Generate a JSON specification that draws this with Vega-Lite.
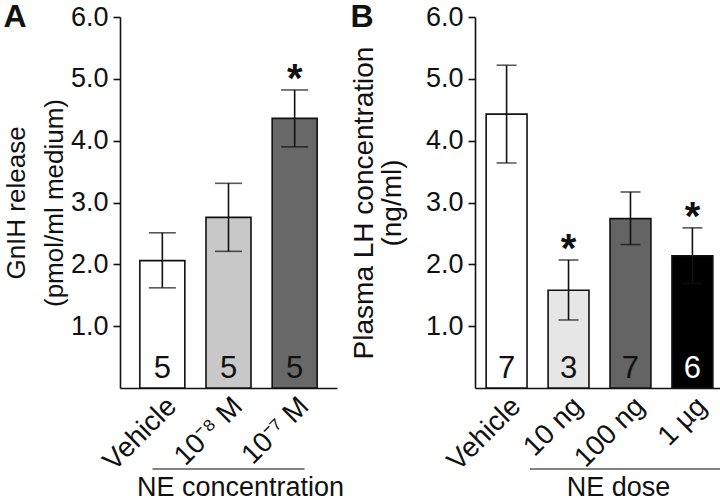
{
  "$schema": "https://vega.github.io/schema/vega-lite/v6.json",
  "padding": {"left": 3, "top": 1, "right": 0, "bottom": 0},
  "spacing": 6,
  "resolve": {"scale": {"fill": "independent", "color": "independent"}},
  "config": {
    "font": "Liberation Sans",
    "view": {"stroke": null},
    "axis": {"domainColor": "#111111", "domainWidth": 1.6, "tickColor": "#111111", "tickWidth": 1.6, "labelColor": "#111111", "titleColor": "#111111", "titleFontWeight": "normal", "grid": false},
    "title": {"fontSize": 32, "fontWeight": "bold", "color": "#111111"}
  },
  "datasets": {
    "a": [
      {"group": "Vehicle", "mean": 2.06, "lo": 1.62, "hi": 2.51, "n": "5", "sig": ""},
      {"group": "10⁻⁸ M", "mean": 2.76, "lo": 2.21, "hi": 3.31, "n": "5", "sig": ""},
      {"group": "10⁻⁷ M", "mean": 4.36, "lo": 3.90, "hi": 4.82, "n": "5", "sig": "*"}
    ],
    "b": [
      {"group": "Vehicle", "mean": 4.43, "lo": 3.64, "hi": 5.22, "n": "7", "sig": ""},
      {"group": "10 ng", "mean": 1.58, "lo": 1.10, "hi": 2.07, "n": "3", "sig": "*"},
      {"group": "100 ng", "mean": 2.74, "lo": 2.32, "hi": 3.17, "n": "7", "sig": ""},
      {"group": "1 µg", "mean": 2.14, "lo": 1.69, "hi": 2.59, "n": "6", "sig": "*"}
    ]
  },
  "hconcat": [
    {
      "width": 217,
      "height": 371,
      "title": {"text": "A", "anchor": "start", "frame": "bounds", "dy": 35},
      "data": {"name": "a"},
      "encoding": {
        "x": {
          "field": "group", "type": "nominal", "sort": null,
          "scale": {"paddingInner": 0.32, "paddingOuter": 0.3},
          "axis": {"labelAngle": -45, "ticks": false, "labelFontSize": 28, "labelPadding": 4, "title": "NE concentration", "titleFontSize": 27, "titleX": 120, "titleY": 86, "titleBaseline": "top", "titleAlign": "center"}
        }
      },
      "layer": [
        {
          "mark": {"type": "bar", "stroke": "#111111", "strokeWidth": 1.6},
          "encoding": {
            "y": {"field": "mean", "type": "quantitative", "scale": {"domain": [0, 6]},
              "axis": {"values": [1, 2, 3, 4, 5, 6], "format": ".1f", "tickSize": 7, "labelPadding": 5, "labelFontSize": 27, "title": ["GnIH release", "(pmol/ml medium)"], "titleFontSize": 26, "titleLineHeight": 38, "titlePadding": 3}},
            "fill": {"field": "group", "type": "nominal", "scale": {"domain": ["Vehicle", "10⁻⁸ M", "10⁻⁷ M"], "range": ["#ffffff", "#c8c8c8", "#686868"]}, "legend": null}
          }
        },
        {
          "mark": {"type": "rule", "color": "#111111", "strokeWidth": 1.6},
          "encoding": {"y": {"field": "lo", "type": "quantitative", "scale": {"domain": [0, 6]}}, "y2": {"field": "hi"}}
        },
        {
          "mark": {"type": "tick", "color": "#111111", "thickness": 1.6, "size": 27, "orient": "horizontal"},
          "encoding": {"y": {"field": "lo", "type": "quantitative", "scale": {"domain": [0, 6]}}}
        },
        {
          "mark": {"type": "tick", "color": "#111111", "thickness": 1.6, "size": 27, "orient": "horizontal"},
          "encoding": {"y": {"field": "hi", "type": "quantitative", "scale": {"domain": [0, 6]}}}
        },
        {
          "mark": {"type": "text", "fontSize": 31, "dy": -10, "baseline": "alphabetic", "color": "#111111"},
          "encoding": {"y": {"datum": 0, "scale": {"domain": [0, 6]}}, "text": {"field": "n"}}
        },
        {
          "mark": {"type": "text", "fontSize": 40, "fontWeight": "bold", "baseline": "alphabetic", "dy": 2, "color": "#111111"},
          "encoding": {"y": {"field": "hi", "type": "quantitative", "scale": {"domain": [0, 6]}}, "text": {"field": "sig"}}
        },
        {
          "data": {"values": [{}]},
          "mark": {"type": "tick", "color": "#111111", "thickness": 1.6, "size": 152, "orient": "horizontal"},
          "encoding": {"x": {"datum": "10⁻⁸ M", "bandPosition": 0.93}, "y": {"datum": -1.31, "scale": {"domain": [0, 6]}}}
        }
      ]
    },
    {
      "width": 249,
      "height": 371,
      "title": {"text": "B", "anchor": "start", "frame": "bounds", "dy": 35},
      "data": {"name": "b"},
      "encoding": {
        "x": {
          "field": "group", "type": "nominal", "sort": null,
          "scale": {"paddingInner": 0.34, "paddingOuter": 0.18},
          "axis": {"labelAngle": -45, "ticks": false, "labelFontSize": 28, "labelPadding": 4, "title": "NE dose", "titleFontSize": 27, "titleX": 143, "titleY": 86, "titleBaseline": "top", "titleAlign": "center"}
        }
      },
      "layer": [
        {
          "mark": {"type": "bar", "stroke": "#111111", "strokeWidth": 1.6},
          "encoding": {
            "y": {"field": "mean", "type": "quantitative", "scale": {"domain": [0, 6]},
              "axis": {"values": [1, 2, 3, 4, 5, 6], "format": ".1f", "tickSize": 7, "labelPadding": 5, "labelFontSize": 27, "title": ["Plasma LH concentration", "(ng/ml)"], "titleFontSize": 28, "titleLineHeight": 28, "titlePadding": 19}},
            "fill": {"field": "group", "type": "nominal", "scale": {"domain": ["Vehicle", "10 ng", "100 ng", "1 µg"], "range": ["#ffffff", "#e6e6e6", "#646464", "#000000"]}, "legend": null}
          }
        },
        {
          "mark": {"type": "rule", "color": "#111111", "strokeWidth": 1.6},
          "encoding": {"y": {"field": "lo", "type": "quantitative", "scale": {"domain": [0, 6]}}, "y2": {"field": "hi"}}
        },
        {
          "mark": {"type": "tick", "color": "#111111", "thickness": 1.6, "size": 20, "orient": "horizontal"},
          "encoding": {"y": {"field": "lo", "type": "quantitative", "scale": {"domain": [0, 6]}}}
        },
        {
          "mark": {"type": "tick", "color": "#111111", "thickness": 1.6, "size": 20, "orient": "horizontal"},
          "encoding": {"y": {"field": "hi", "type": "quantitative", "scale": {"domain": [0, 6]}}}
        },
        {
          "mark": {"type": "text", "fontSize": 31, "dy": -10, "baseline": "alphabetic"},
          "encoding": {
            "y": {"datum": 0, "scale": {"domain": [0, 6]}},
            "text": {"field": "n"},
            "color": {"condition": {"test": "datum.group === '1 µg'", "value": "#ffffff"}, "value": "#111111"}
          }
        },
        {
          "mark": {"type": "text", "fontSize": 40, "fontWeight": "bold", "baseline": "alphabetic", "dy": 2, "color": "#111111"},
          "encoding": {"y": {"field": "hi", "type": "quantitative", "scale": {"domain": [0, 6]}}, "text": {"field": "sig"}}
        },
        {
          "data": {"values": [{}]},
          "mark": {"type": "tick", "color": "#111111", "thickness": 1.6, "size": 201, "orient": "horizontal"},
          "encoding": {"x": {"datum": "100 ng", "bandPosition": 0.23}, "y": {"datum": -1.31, "scale": {"domain": [0, 6]}}}
        }
      ]
    }
  ]
}
